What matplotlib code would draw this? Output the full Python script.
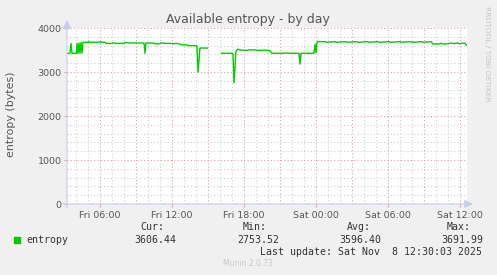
import matplotlib
matplotlib.use("Agg")
import matplotlib.pyplot as plt
import numpy as np
from matplotlib.ticker import FixedLocator, FuncFormatter

# hours since Fri 00:00, NaN marks the gap in the data
hours = [
    3.25, 3.50, 3.58, 3.67, 4.04, 4.08, 4.17, 4.25, 4.33, 4.42, 4.50, 4.58,
    5.00, 5.08, 5.17, 6.00, 6.08, 6.17, 6.42, 6.50, 7.00, 7.08, 7.25, 8.00,
    8.08, 8.25, 8.33, 9.50, 9.67, 9.75, 9.83, 10.50, 10.58, 11.00, 11.08,
    11.50, 12.00, 12.08, 12.40, 12.60, 12.75, 13.25, 13.33, 14.00, 14.08,
    14.17, 14.33, 14.94, 15.50,
    16.14, 17.00, 17.08, 17.17, 17.33, 17.42, 17.50, 17.67, 18.30, 18.40,
    19.00, 19.20, 19.50, 20.00, 20.17, 20.33, 21.00, 21.50, 22.00, 22.58,
    22.67, 22.75, 23.83, 23.92, 24.00, 24.08, 24.17, 24.80, 24.90, 25.60,
    25.70, 26.50, 26.60, 27.40, 27.50, 28.30, 28.40, 29.20, 29.30, 30.10,
    30.20, 31.00, 31.10, 31.90, 32.00, 32.80, 32.90, 33.60, 33.75, 34.30,
    34.40, 34.60, 35.00, 35.20, 35.50, 35.80, 36.00, 36.20, 36.42, 36.55,
]
entropy = [
    3425, 3425, 3650, 3425, 3425, 3650, 3425, 3660, 3420, 3670, 3430, 3675,
    3675, 3690, 3675, 3680, 3690, 3675, 3675, 3650, 3650, 3665, 3650, 3650,
    3670, 3670, 3660, 3660, 3650, 3425, 3660, 3655, 3640, 3645, 3660,
    3650, 3650, 3640, 3650, 3640, 3620, 3615, 3600, 3600, 3590,
    2995, 3545, 3545, np.nan,
    3425, 3425, 3410, 2754, 3460, 3500, 3520, 3500, 3490, 3505,
    3500, 3490, 3495, 3495, 3480, 3425, 3425, 3430, 3425, 3425,
    3180, 3425, 3425, 3630, 3440, 3675, 3690, 3690, 3675, 3690,
    3675, 3690, 3675, 3690, 3675, 3690, 3675, 3690, 3675, 3690,
    3675, 3690, 3675, 3690, 3675, 3690, 3675, 3690, 3635, 3640,
    3655, 3635, 3640, 3660, 3645, 3660, 3640, 3655, 3650, 3606,
]

x_labels = ["Fri 06:00", "Fri 12:00", "Fri 18:00", "Sat 00:00", "Sat 06:00", "Sat 12:00"]
label_hours = [6, 12, 18, 24, 30, 36]
stats = {"Cur:": "3606.44", "Min:": "2753.52", "Avg:": "3596.40", "Max:": "3691.99"}

W, H = 497, 275
BG = "#f0f0f0"
GRID_MINOR = "#cfcfcf"
GRID_MAJOR = "#e3a0a0"
AXIS = "#c8ccf0"
TXT = "#555555"


def fx(x):
    return x / W


def fy(y):
    return 1 - y / H


fig = plt.figure(figsize=(W / 100, H / 100), dpi=100, facecolor=BG)
ax = fig.add_axes([fx(67), fy(204), 400 / W, 176 / H])
ax.set_facecolor("white")
ax.set_xlim(3.25, 36.583)
ax.set_ylim(0, 4000)

# grid
for h in range(4, 37):
    major = h % 3 == 0
    ax.axvline(h, color=GRID_MAJOR if major else GRID_MINOR, lw=0.8,
               dashes=(1, 2), zorder=1)
for v in range(200, 4001, 200):
    major = v % 1000 == 0
    ax.axhline(v, color=GRID_MAJOR if major else GRID_MINOR, lw=0.8,
               dashes=(1, 2), zorder=1)

ax.plot(hours, entropy, color="#00cc00", lw=1.0, zorder=3)

for s in ax.spines.values():
    s.set_visible(False)

ax.xaxis.set_major_locator(FixedLocator(label_hours))
ax.xaxis.set_major_formatter(FuncFormatter(lambda v, p: x_labels[p] if p is not None and p < len(x_labels) else ""))
ax.set_yticks([0, 1000, 2000, 3000, 4000])
ax.tick_params(axis="both", length=2, color=GRID_MAJOR, labelsize=6.8,
               labelcolor=TXT, pad=2)
ax.tick_params(axis="x", pad=3)

# axes with arrows
ax.annotate("", xy=(fx(473), fy(204)), xycoords="figure fraction",
            xytext=(fx(63), fy(204)), textcoords="figure fraction",
            arrowprops=dict(arrowstyle="-|>,head_length=0.5,head_width=0.25",
                            color=AXIS, lw=0.8, shrinkA=0, shrinkB=0))
ax.annotate("", xy=(fx(67), fy(20)), xycoords="figure fraction",
            xytext=(fx(67), fy(208)), textcoords="figure fraction",
            arrowprops=dict(arrowstyle="-|>,head_length=0.5,head_width=0.25",
                            color=AXIS, lw=0.8, shrinkA=0, shrinkB=0))

fig.text(fx(248), fy(20), "Available entropy - by day", ha="center", va="center",
         fontsize=9, color=TXT)
fig.text(fx(11.5), fy(114), "entropy (bytes)", rotation=90, ha="center",
         va="center", fontsize=7.9, color=TXT)
fig.text(fx(487), fy(54), "RRDTOOL / TOBI OETIKER", rotation=270, ha="center",
         va="center", fontsize=5.4, color="#c4c4c4")

mono = dict(family="DejaVu Sans Mono", fontsize=7.15, color="#333333", va="center")
fig.patches.append(plt.Rectangle((fx(14), fy(243)), 6 / W, 6 / H,
                                 transform=fig.transFigure, color="#00cc00"))
fig.text(fx(26), fy(240), "entropy", ha="left", **mono)
head_x = [140, 243, 347, 447]
val_x = [134, 237, 339, 441]
for (k, v), hx, vx in zip(stats.items(), head_x, val_x):
    fig.text(fx(hx), fy(226.7), k, ha="left", **mono)
    fig.text(fx(vx), fy(240), v, ha="left", **mono)
fig.text(fx(482), fy(251.7), "Last update: Sat Nov  8 12:30:03 2025", ha="right", **mono)
fig.text(fx(248), fy(264), "Munin 2.0.73", ha="center", va="center",
         fontsize=5.5, color="#c8c8c8")

fig.savefig("out.png", dpi=100, facecolor=BG)
